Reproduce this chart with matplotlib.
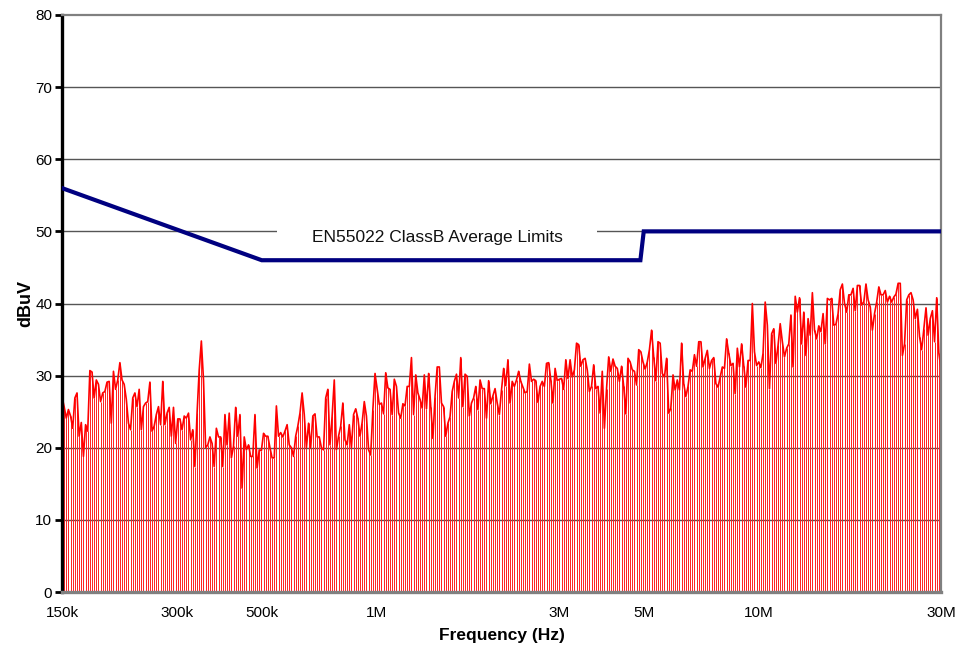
import numpy as np
import matplotlib
matplotlib.use("Agg")
import matplotlib.pyplot as plt
from matplotlib.ticker import FixedLocator, FixedFormatter, NullLocator

plt.rcParams['font.family'] = ['Liberation Sans', 'DejaVu Sans']

# Measured spectrum (dBuV), read left to right, equally spaced on the log frequency axis
seg1 = [27.1, 25.7, 24.1, 25.3, 24.4, 22.7, 26.9, 27.6, 21.6, 23.5, 18.8, 23.2, 22.3, 30.7, 30.5,
        26.9, 29.4, 28.8, 26.4, 27.6, 27.8, 29.1, 29.2, 23.4, 30.6, 28.1, 29.4, 31.8, 29.4, 28.8,
        26.7, 23.4, 22.5, 26.9, 27.6, 25.7, 28.1, 22.5, 25.7, 26.2, 26.4, 29.1, 22.3, 23.0, 24.6,
        25.7, 23.2, 29.2, 23.2, 24.8, 25.6, 21.6, 25.6, 20.6, 24.0, 24.0, 22.5, 24.4]
seg2 = [24.1, 24.8, 21.1, 22.5, 17.4, 24.8, 30.8, 34.8, 29.4, 20.0, 20.4, 21.5, 20.6, 17.4, 22.7,
        21.5, 21.5, 17.4, 24.6, 20.4, 24.8, 18.6, 20.2, 25.6, 21.6, 24.6, 14.4, 21.5, 19.7, 20.4,
        18.8, 18.8, 24.6, 17.2, 19.7, 19.6, 22.0, 21.6, 21.6, 20.0, 18.6, 18.6, 25.8, 21.6, 22.1,
        21.5, 22.3, 23.2, 20.4, 20.0, 18.8, 21.6, 23.0, 24.8, 27.6, 24.6, 20.0, 23.4, 20.0, 24.4]
seg3 = [24.7, 21.5, 21.5, 20.0, 19.7, 26.9, 28.1, 20.4, 24.4, 29.4, 19.7, 21.6, 23.0, 26.2, 21.1,
        20.4, 23.2, 20.0, 24.6, 25.4, 24.1, 21.6, 23.5, 26.4, 24.4, 19.7, 19.0, 25.3, 30.3, 28.1,
        26.0, 26.2, 24.7, 30.4, 28.3, 28.1, 24.6, 29.5, 28.5, 24.8, 24.1, 26.1, 25.8, 28.5, 28.5,
        32.5, 24.6, 30.1, 27.6, 26.7, 25.5, 30.1, 25.4, 30.3, 25.7, 21.3, 27.1, 31.2, 31.2, 26.2]
seg4 = [25.7, 21.6, 23.4, 24.3, 27.8, 29.2, 30.2, 26.9, 32.5, 25.7, 30.2, 29.9, 24.4, 26.2, 26.9,
        28.5, 25.3, 29.4, 28.2, 28.2, 24.1, 29.3, 26.1, 27.2, 28.2, 26.2, 24.6, 28.0, 31.0, 28.6,
        32.2, 26.2, 29.2, 28.5, 29.4, 30.6, 29.2, 28.4, 27.6, 27.8, 31.6, 29.2, 29.5, 29.3, 26.3,
        28.5, 29.2, 28.5, 31.7, 31.8, 29.4, 26.2, 31.0, 29.3, 29.5, 29.6, 28.1, 32.2, 29.6]
seg5 = [32.2, 29.8, 30.8, 34.5, 34.3, 31.3, 32.2, 32.4, 30.8, 27.8, 28.5, 31.5, 28.2, 28.5, 24.8,
        30.6, 22.7, 28.2, 32.6, 30.6, 32.3, 31.3, 31.0, 29.2, 31.3, 28.5, 24.7, 32.4, 31.9, 30.8,
        30.6, 28.7, 33.6, 33.3, 31.9, 30.9, 31.9, 33.6, 36.3, 32.6, 29.3, 34.7, 34.5, 30.3, 29.8,
        32.4, 24.8, 25.5, 30.1, 28.0, 29.4, 28.0, 34.5, 28.9, 27.1, 28.5, 30.8, 30.6, 32.9, 31.3, 34.7]
seg6 = [34.7, 31.2, 32.4, 33.5, 31.0, 32.1, 32.5, 28.9, 28.4, 29.8, 31.2, 31.0, 35.1, 33.1, 31.4,
        31.7, 27.5, 33.8, 31.2, 34.4, 31.4, 28.4, 32.1, 32.1, 40.0, 33.3, 31.4, 31.9, 31.1, 33.1,
        40.2, 37.0, 28.2, 35.8, 36.5, 31.7, 34.2, 37.2, 34.7, 32.6, 33.8, 34.4, 38.4, 31.2, 41.0,
        38.8, 40.8, 34.4, 38.8, 32.8, 37.9, 35.6, 41.5, 36.3, 35.1, 36.9, 36.1, 38.6, 34.4, 40.7, 40.5]
seg7 = [40.7, 37.0, 37.1, 38.6, 41.9, 42.7, 40.0, 38.8, 41.2, 41.2, 42.1, 39.0, 42.5, 42.5, 39.8,
        40.2, 42.7, 40.5, 39.5, 36.3, 38.6, 40.2, 42.3, 41.2, 41.2, 41.8, 40.2, 41.0, 40.2, 40.9,
        41.3, 42.8, 42.8, 32.8, 34.4, 40.5, 41.2, 41.5, 40.5, 37.9, 39.2, 35.4, 33.6, 36.5, 39.4,
        35.6, 37.9, 39.0, 34.7, 40.8, 33.1, 31.0]
spectrum = seg1 + seg2 + seg3 + seg4 + seg5 + seg6 + seg7

f_start, f_stop = 150e3, 30e6

# EN55022 Class B average limit
limit_freq = [150e3, 500e3, 4.9e6, 5.0e6, 30e6]
limit_dbuv = [56, 46, 46, 50, 50]
limit_label = "EN55022 ClassB Average Limits"

xtick_vals = [150e3, 300e3, 500e3, 1e6, 3e6, 5e6, 10e6, 30e6]
xtick_labels = ["150k", "300k", "500k", "1M", "3M", "5M", "10M", "30M"]
ytick_vals = [0, 10, 20, 30, 40, 50, 60, 70, 80]

freqs = np.geomspace(f_start, f_stop, len(spectrum))
vals = np.array(spectrum)

fig = plt.figure(figsize=(9.56, 6.46), dpi=100)
ax = fig.add_axes([62/956, 1-592/646, (941-62)/956, (592-15)/646])
ax.set_xscale('log')
ax.set_xlim(f_start, f_stop)
ax.set_ylim(0, 80)

for y in ytick_vals[1:-1]:
    ax.axhline(y, color='#555555', lw=1.0, zorder=1)

ax.vlines(freqs, 0, vals, colors='#ff2020', lw=0.7, zorder=2)
ax.plot(freqs, vals, color='#ff0000', lw=1.2, zorder=2.5)

ax.plot(limit_freq, limit_dbuv, color='#000080', lw=3.0, zorder=5, solid_joinstyle='miter')

ax.text(1.44e6, 49.1, limit_label, ha='center', va='center',
        fontsize=12.5, color='#111111', zorder=4,
        bbox=dict(boxstyle='square,pad=2.0', facecolor='white', edgecolor='none'))

ax.xaxis.set_major_locator(FixedLocator(xtick_vals))
ax.xaxis.set_major_formatter(FixedFormatter(xtick_labels))
ax.xaxis.set_minor_locator(NullLocator())
ax.set_yticks(ytick_vals)
ax.tick_params(axis='x', length=0, pad=10, labelsize=11)
ax.tick_params(axis='y', length=5, width=2, direction='out', pad=2, labelsize=11, color='black')

ax.spines['left'].set_color('black')
ax.spines['left'].set_linewidth(2.4)
ax.spines['bottom'].set_color('#808080')
ax.spines['bottom'].set_linewidth(2.4)
ax.spines['top'].set_color('#808080')
ax.spines['top'].set_linewidth(1.6)
ax.spines['right'].set_color('#808080')
ax.spines['right'].set_linewidth(1.6)

ax.set_xlabel("Frequency (Hz)", fontsize=12.5, fontweight='bold', labelpad=6)
ax.set_ylabel("dBuV", fontsize=13, fontweight='bold', labelpad=0.5)

fig.savefig("out.png", dpi=100)
